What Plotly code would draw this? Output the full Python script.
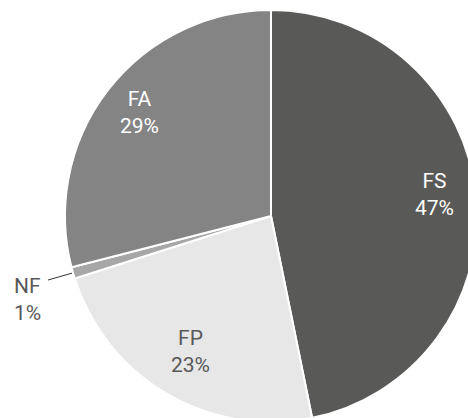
import math
import plotly.graph_objects as go

labels = ["FS", "FP", "NF", "FA"]
values = [46.8, 23.3, 0.9, 29.0]
colors = ["#595957", "#e7e7e7", "#a7a7a7", "#848484"]
text_colors = ["#ffffff", "#595959", "#595959", "#ffffff"]

W, H = 480, 425
R = 206
CX, CY = 271, 216  # pixel centre (from top-left)
FONT = "Roboto, sans-serif"
FSIZE = 21

fig = go.Figure(go.Pie(
    labels=labels,
    values=values,
    sort=False,
    direction="clockwise",
    rotation=0,
    marker=dict(colors=colors, line=dict(color="#ffffff", width=2)),
    textinfo="none",
    domain=dict(x=[(CX - R) / W, (CX + R) / W], y=[(H - CY - R) / H, (H - CY + R) / H]),
    showlegend=False,
    hoverinfo="label+percent",
))

total = sum(values)

def pt(angle_deg, r):
    a = math.radians(angle_deg)
    x = CX + r * math.sin(a)
    y = CY - r * math.cos(a)
    return x / W, 1 - y / H

label_radius = {"FS": 0.8, "FP": 0.77, "FA": 0.81}
label_yshift = {"FS": 5, "FP": 1, "FA": 1}

acc = 0.0
for lab, val, tc in zip(labels, values, text_colors):
    mid = (acc + val / 2) / total * 360
    acc += val
    txt = f"{lab}<br>{round(val / total * 100)}%"
    if lab == "NF":
        x0, y0 = pt(mid, R + 1)
        x1, y1 = pt(mid, R + 26)
        fig.add_shape(type="line", xref="paper", yref="paper", x0=x0, y0=y0, x1=x1, y1=y1,
                      line=dict(color="#333333", width=1))
        fig.add_annotation(xref="paper", yref="paper", x=x1, y=y1, xanchor="right",
                           yanchor="middle", xshift=-5, yshift=-19, showarrow=False,
                           align="left", text=txt,
                           font=dict(color=tc, size=FSIZE, family=FONT))
    else:
        x, y = pt(mid, label_radius[lab] * R)
        fig.add_annotation(xref="paper", yref="paper", x=x, y=y, xanchor="center",
                           yanchor="middle", yshift=label_yshift[lab], showarrow=False,
                           align="center", text=txt,
                           font=dict(color=tc, size=FSIZE, family=FONT))

fig.update_layout(
    width=W, height=H,
    margin=dict(l=0, r=0, t=0, b=0),
    paper_bgcolor="#ffffff",
    plot_bgcolor="#ffffff",
)
fig.write_html(
    "out.html",
    config={"displayModeBar": False},
    post_script="document.body.style.margin='0';document.body.style.overflow='hidden';",
)
